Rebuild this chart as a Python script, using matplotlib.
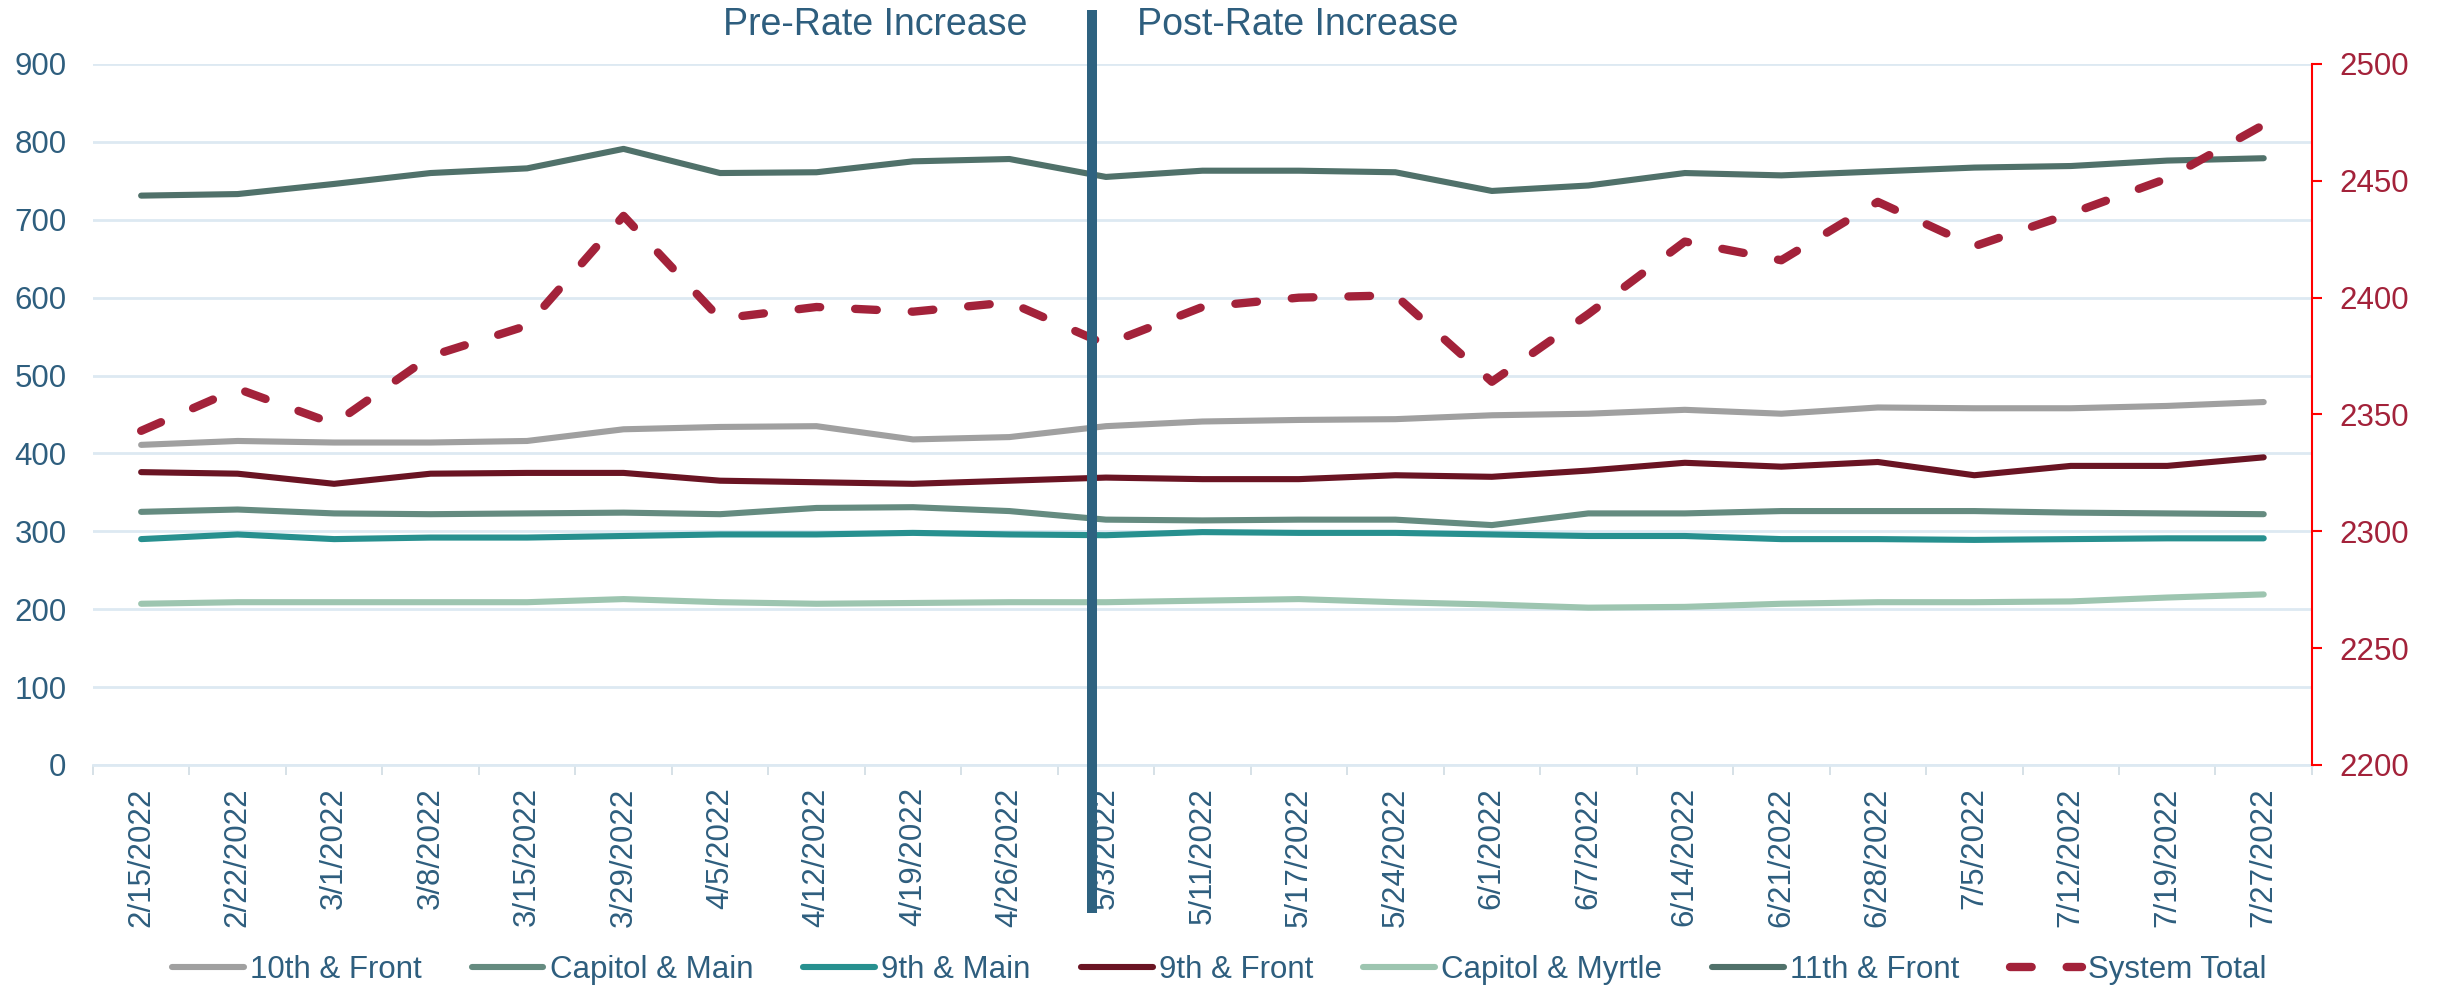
import numpy as np
import matplotlib
matplotlib.use("Agg")
import matplotlib.pyplot as plt

plt.rcParams['font.family'] = ['Liberation Sans', 'DejaVu Sans']

dates = ['2/15/2022', '2/22/2022', '3/1/2022', '3/8/2022', '3/15/2022', '3/29/2022',
         '4/5/2022', '4/12/2022', '4/19/2022', '4/26/2022', '5/3/2022', '5/11/2022',
         '5/17/2022', '5/24/2022', '6/1/2022', '6/7/2022', '6/14/2022', '6/21/2022',
         '6/28/2022', '7/5/2022', '7/12/2022', '7/19/2022', '7/27/2022']

tenth_front = [411, 416, 414, 414, 416, 431, 434, 435, 418, 421, 435, 441,
               443, 444, 449, 451, 456, 451, 459, 458, 458, 461, 466]
capitol_main = [325, 328, 323, 322, 323, 324, 322, 330, 331, 326, 315, 314,
                315, 315, 308, 323, 323, 326, 326, 326, 324, 323, 322]
ninth_main = [290, 296, 290, 292, 292, 294, 296, 296, 298, 296, 295, 299,
              298, 298, 296, 294, 294, 290, 290, 289, 290, 291, 291]
ninth_front = [376, 374, 361, 374, 375, 375, 365, 363, 361, 365, 369, 367,
               367, 372, 370, 378, 388, 383, 389, 372, 384, 384, 395]
capitol_myrtle = [207, 209, 209, 209, 209, 213, 209, 207, 208, 209, 209, 211,
                  213, 209, 206, 202, 203, 207, 209, 209, 210, 215, 219]
eleventh_front = [731, 733, 746, 760, 766, 791, 760, 761, 775, 778, 755, 763,
                  763, 761, 737, 744, 760, 757, 762, 767, 769, 776, 779]
system_total = [2343, 2361, 2346, 2375, 2388, 2435, 2391, 2396, 2394, 2398, 2380, 2396,
                2400, 2401, 2364, 2393, 2424, 2416, 2441, 2422, 2436, 2451, 2474]

left_series = [
    ("10th & Front", tenth_front, "#a0a0a0"),
    ("Capitol & Main", capitol_main, "#658b80"),
    ("9th & Main", ninth_main, "#27908f"),
    ("9th & Front", ninth_front, "#6a1423"),
    ("Capitol & Myrtle", capitol_myrtle, "#9dc5b0"),
    ("11th & Front", eleventh_front, "#50716a"),
]
divider_pos = 9.86  # rate increase, just before 5/3

text_blue = "#2e5e7e"
grid_blue = "#dde9f2"
total_red = "#a3223a"

fig = plt.figure(figsize=(24.38, 9.89), dpi=100)
ax = fig.add_axes([0.0381, 0.2265, 0.9102, 0.7088])
x = np.arange(len(dates))

handles = []
for name, vals, col in left_series:
    h, = ax.plot(x, vals, color=col, lw=4.4, solid_capstyle='round', label=name)
    handles.append(h)

ax.set_ylim(0, 900)
ax.set_yticks(np.arange(0, 901, 100))
ax.set_xlim(-0.5, len(dates) - 0.5)
ax.set_xticks(x)
ax.set_xticklabels(dates, rotation=90)
ax.set_xticks(np.arange(-0.5, len(dates), 1), minor=True)
ax.grid(axis='y', color=grid_blue, lw=2)
ax.set_axisbelow(True)
ax.tick_params(axis='y', length=0, pad=19, labelsize=22.5, labelcolor=text_blue)
ax.tick_params(axis='x', which='major', length=0, pad=16, labelsize=22.5, labelcolor=text_blue)
ax.tick_params(axis='x', which='minor', length=7, width=1.2, color="#d0dbe3")
for s in ['left', 'top', 'right']:
    ax.spines[s].set_visible(False)
ax.spines['bottom'].set_color(grid_blue)
ax.spines['bottom'].set_linewidth(2)

ax2 = ax.twinx()
h, = ax2.plot(x, system_total, color=total_red, lw=6, dashes=(2.6, 4.2),
              dash_capstyle='round', label="System Total")
handles.append(h)
ax2.set_ylim(2200, 2500)
ax2.set_yticks(np.arange(2200, 2501, 50))
ax2.tick_params(axis='y', length=7, width=1.5, color="#ff0000", pad=13,
                labelsize=22.5, labelcolor=total_red)
for s in ['left', 'top', 'bottom']:
    ax2.spines[s].set_visible(False)
ax2.spines['right'].set_color("#ff0000")
ax2.spines['right'].set_linewidth(1.5)

# divider between pre and post rate increase
ax2.axvline(divider_pos, ymin=-0.204, ymax=1.07, color="#2e6280", lw=7.2,
            clip_on=False, zorder=10)
trans = ax.get_xaxis_transform()
ax.annotate("Pre-Rate Increase", xy=(divider_pos, 1.041), xycoords=trans,
            xytext=(-47, 0), textcoords='offset points', ha='right', va='baseline',
            fontsize=27, color=text_blue, annotation_clip=False)
ax.annotate("Post-Rate Increase", xy=(divider_pos, 1.041), xycoords=trans,
            xytext=(32, 0), textcoords='offset points', ha='left', va='baseline',
            fontsize=27, color=text_blue, annotation_clip=False)

fig.legend(handles=handles, loc='center', bbox_to_anchor=(0.5, 0.019), ncol=7,
           frameon=False, fontsize=22.5, labelcolor=text_blue, handlelength=2.3,
           handletextpad=0.2, columnspacing=1.6)

fig.savefig("out.png", dpi=100)
